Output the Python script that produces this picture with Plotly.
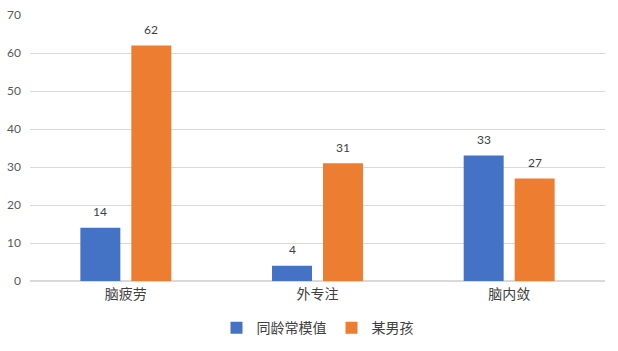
import plotly.graph_objects as go

categories = ["脑疲劳", "外专注", "脑内敛"]
series_names = ["同龄常模值", "某男孩"]
norm_values = [14, 4, 33]
boy_values = [62, 31, 27]
colors = ["#4472C4", "#ED7D31"]
y_ticks = [0, 10, 20, 30, 40, 50, 60, 70]

fig = go.Figure()
for name, vals, col in zip(series_names, [norm_values, boy_values], colors):
    fig.add_trace(go.Bar(x=categories, y=vals, name=name, marker_color=col,
                         marker_line_width=0, hoverinfo="x+y"))

# data labels
for vals, shift in zip([norm_values, boy_values], [-25.5, 25.5]):
    for c, v in zip(categories, vals):
        fig.add_annotation(x=c, y=v, text=str(v), showarrow=False, xshift=shift,
                           yshift=16, font=dict(family="Lato, Liberation Sans", size=12, color="#404040"))

fig.update_layout(
    width=618, height=351,
    margin=dict(l=30, r=13, t=15, b=70, autoexpand=False),
    paper_bgcolor="white", plot_bgcolor="white",
    barmode="group", bargap=0.468, bargroupgap=0.216,
    showlegend=True,
    legend=dict(orientation="h", x=0.5, xanchor="center", y=-0.177, yanchor="middle",
                font=dict(family="Noto Sans CJK SC", size=14, color="#404040"),
                itemwidth=30, tracegroupgap=0),
    xaxis=dict(showgrid=False, showline=True, linecolor="#d9d9d9", linewidth=1,
               ticks="", tickfont=dict(family="Noto Sans CJK SC", size=14, color="#404040")),
    yaxis=dict(range=[0, 70], tickvals=y_ticks, showgrid=True, gridcolor="#d9d9d9",
               gridwidth=1, zeroline=True, zerolinecolor="#d9d9d9", showline=False,
               ticks="", ticklabelstandoff=8,
               tickfont=dict(family="Lato, Liberation Sans", size=12, color="#595959")),
)

fig.write_html("out.html")
